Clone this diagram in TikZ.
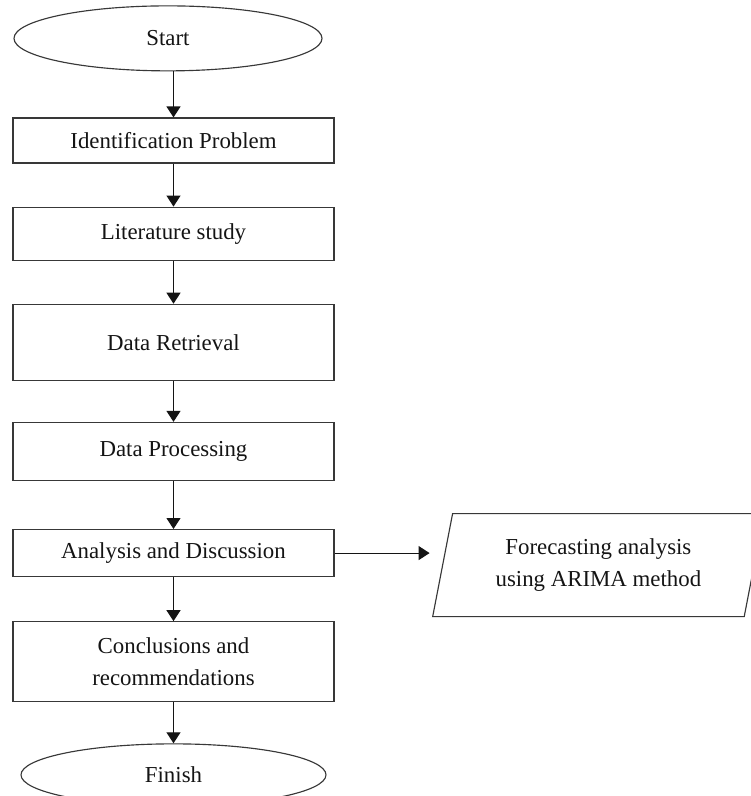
\documentclass[tikz,border=0pt]{standalone}
\usepackage{fontspec}
\setmainfont{Liberation Serif}
\usepackage{xcolor}
\usetikzlibrary{arrows.meta,positioning,shapes.geometric}
\definecolor{border}{HTML}{383838}
\definecolor{ink}{HTML}{141414}
\tikzset{
  procbox/.style={
    draw=border, line width=0.65pt, rectangle,
    minimum width=6.42cm, minimum height=#1, inner sep=2pt,
    font=\fontsize{13}{18}\selectfont, text=ink, align=center,
  },
  termnode/.style={
    draw=border, line width=0.65pt, ellipse, inner sep=0pt,
    font=\fontsize{13}{18}\selectfont, text=ink,
  },
  iobox/.style={
    draw=border, line width=0.65pt, trapezium,
    trapezium left angle=75, trapezium right angle=105,
    trapezium stretches=true, inner sep=0pt,
    minimum width=6.64cm, minimum height=2.06cm,
    font=\fontsize{13}{18}\selectfont, text=ink, align=center,
  },
  arrow/.style={-{Triangle[length=0.22cm, width=0.28cm]}, line width=0.65pt, color=ink},
}

\begin{document}
\begin{tikzpicture}[node distance=0.86cm]

  \clip (0,0) rectangle (15.02,-15.92);

  \node[procbox=0.9cm] (ident) at (3.47,-2.81) {Identification Problem};

  \node[termnode, minimum width=6.16cm, minimum height=1.3cm,
        above=0.92cm of ident, xshift=-0.11cm] (start) {Start};

  \node[procbox=1.06cm, below=0.86cm of ident] (lit) {Literature study};

  \node[procbox=1.52cm, below=0.86cm of lit] (retr) {Data Retrieval};

  \node[procbox=1.16cm, below=0.82cm of retr] (proc) {Data Processing};

  \node[procbox=0.94cm, below=0.96cm of proc] (ana) {Analysis and Discussion};

  \node[procbox=1.6cm, below=0.88cm of ana] (concl)
    {Conclusions and\\recommendations};

  \node[termnode, minimum width=6.1cm, minimum height=1.24cm,
        below=0.82cm of concl] (finish) {Finish};

  \node[iobox, right=2.15cm of ana, yshift=-0.24cm] (fore)
    {Forecasting analysis\\using ARIMA method};

  \draw[arrow] (start.south -| ident.north) -- (ident.north);
  \draw[arrow] (ident) -- (lit);
  \draw[arrow] (lit) -- (retr);
  \draw[arrow] (retr) -- (proc);
  \draw[arrow] (proc) -- (ana);
  \draw[arrow] (ana) -- (concl);
  \draw[arrow] (concl) -- (finish);
  \draw[arrow, shorten >=0.25cm] (ana.east) -- (ana.east -| fore.west);

\end{tikzpicture}
\end{document}
